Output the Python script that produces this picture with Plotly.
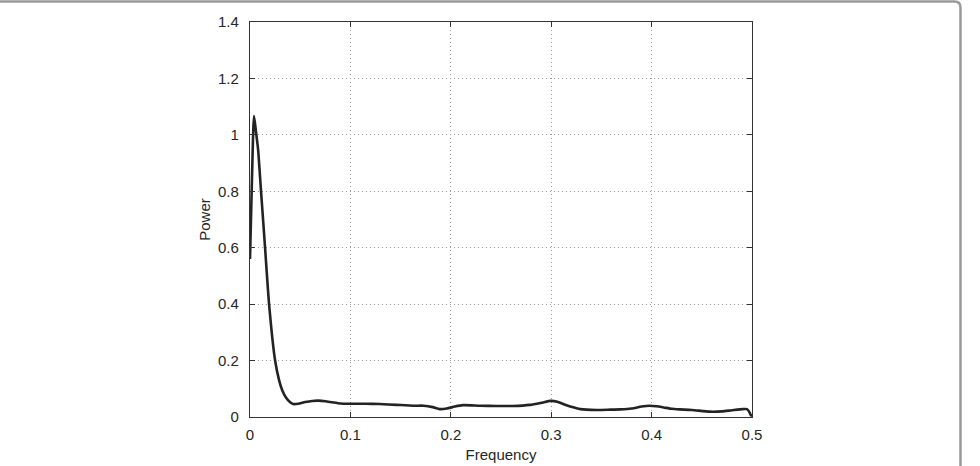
import plotly.graph_objects as go

# Data (frequency vs power)
frequency = [0.0, 0.002, 0.004, 0.006, 0.008, 0.011, 0.015, 0.019, 0.025, 0.029, 0.032, 0.036,
             0.040, 0.043, 0.048, 0.055, 0.062, 0.068, 0.075, 0.082, 0.090, 0.100, 0.115,
             0.129, 0.146, 0.163, 0.173, 0.182, 0.189, 0.196, 0.204, 0.212, 0.229, 0.246,
             0.262, 0.279, 0.290, 0.2995, 0.306, 0.312, 0.320, 0.329, 0.345, 0.359, 0.369,
             0.380, 0.390, 0.398, 0.405, 0.412, 0.420, 0.428, 0.440, 0.458, 0.470, 0.480,
             0.491, 0.495, 0.497, 0.499, 0.5]
power = [0.56, 0.85, 1.067, 1.01, 0.95, 0.80, 0.60, 0.40, 0.20, 0.13, 0.096, 0.068,
         0.052, 0.046, 0.047, 0.053, 0.057, 0.058, 0.056, 0.052, 0.048, 0.047, 0.047,
         0.046, 0.043, 0.040, 0.040, 0.035, 0.028, 0.030, 0.037, 0.042, 0.040, 0.039,
         0.039, 0.043, 0.050, 0.057, 0.054, 0.046, 0.036, 0.028, 0.025, 0.026, 0.027,
         0.030, 0.037, 0.040, 0.038, 0.034, 0.029, 0.027, 0.025, 0.019, 0.020, 0.024,
         0.028, 0.028, 0.020, 0.006, 0.003]

x_ticks = [0, 0.1, 0.2, 0.3, 0.4, 0.5]
x_tick_labels = ["0", "0.1", "0.2", "0.3", "0.4", "0.5"]
y_ticks = [0, 0.2, 0.4, 0.6, 0.8, 1.0, 1.2, 1.4]
y_tick_labels = ["0", "0.2", "0.4", "0.6", "0.8", "1", "1.2", "1.4"]

W, H = 980, 466
L, R, T, B = 250, 228, 22, 49
PW, PH = W - L - R, H - T - B

def px(x):
    return (x - L) / PW

def py(y):
    return (H - B - y) / PH

fig = go.Figure()
fig.add_trace(go.Scatter(
    x=frequency, y=power, mode="lines",
    line=dict(color="#232323", width=2.6, shape="spline", smoothing=0.6),
    showlegend=False, hoverinfo="skip",
))

font = dict(family="Liberation Sans, Arial, Helvetica, sans-serif", size=15, color="#262626")

axis_common = dict(
    showline=True, linecolor="#333333", linewidth=1.4, mirror="allticks",
    ticks="inside", ticklen=5, tickwidth=1, tickcolor="#333333",
    showgrid=True, gridcolor="#9a9a9a", gridwidth=1, griddash="1px,3px",
    zeroline=False, tickfont=font, automargin=False,
)

fig.update_xaxes(range=[0, 0.5], tickvals=x_ticks, ticktext=x_tick_labels,
                 ticklabelstandoff=4,
                 title=dict(text="Frequency", font=font, standoff=7), **axis_common)
fig.update_yaxes(range=[0, 1.4], tickvals=y_ticks, ticktext=y_tick_labels,
                 ticklabelstandoff=7,
                 title=dict(text="Power", font=font, standoff=3), **axis_common)

# outer rounded frame (only top and right edges visible in reference)
x0, x1 = px(-6), px(960.5)
y0, y1 = py(1.5), py(480)
path = (f"M {x0} {y0} L {px(954.5)} {y0} Q {x1} {y0} {x1} {py(7.5)} L {x1} {y1}")
fig.add_shape(type="path", path=path, xref="paper", yref="paper",
              line=dict(color="#9a9a9a", width=2.5), layer="above")

fig.update_layout(
    width=W, height=H, autosize=False,
    margin=dict(l=L, r=R, t=T, b=B, pad=0),
    paper_bgcolor="white", plot_bgcolor="white",
    font=font,
)

fig.write_html("out.html")
